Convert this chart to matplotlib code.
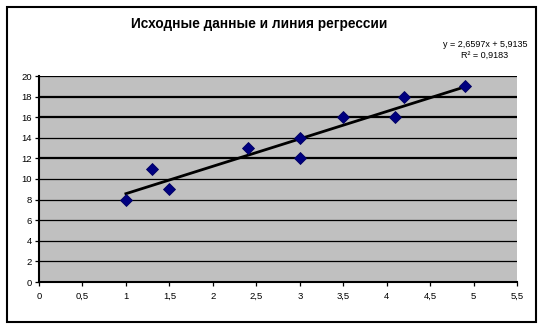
import matplotlib
matplotlib.use("Agg")
import matplotlib.pyplot as plt
from matplotlib.patches import Rectangle
import numpy as np

plt.rcParams['font.family'] = ['Liberation Sans', 'DejaVu Sans']

x_vals = [1.0, 1.3, 1.5, 2.4, 3.0, 3.0, 3.5, 4.1, 4.2, 4.9]
y_vals = [8, 11, 9, 13, 14, 12, 16, 16, 18, 19]
slope = 2.6597
intercept = 5.9135
r2 = 0.9183
title = "Исходные данные и линия регрессии"
x_ticks = [0, 0.5, 1, 1.5, 2, 2.5, 3, 3.5, 4, 4.5, 5, 5.5]
x_tick_labels = ["0", "0,5", "1", "1,5", "2", "2,5", "3", "3,5", "4", "4,5", "5", "5,5"]
y_ticks = [0, 2, 4, 6, 8, 10, 12, 14, 16, 18, 20]
thick_grid = [12, 16, 18]

W, H = 543, 330
fig = plt.figure(figsize=(W / 100, H / 100), dpi=100)
fig.patch.set_facecolor('white')

# outer frame
fig.add_artist(Rectangle((7 / W, 1 - 322 / H), (536 - 7) / W, (322 - 7) / H,
                         transform=fig.transFigure, fill=False,
                         edgecolor='black', linewidth=1.5))

left, right, top, bottom = 39, 517, 76, 282
ax = fig.add_axes([left / W, 1 - bottom / H, (right - left) / W, (bottom - top) / H])
ax.set_facecolor('#C0C0C0')
ax.set_xlim(0, 5.5)
ax.set_ylim(0, 20)

for yv in y_ticks[1:]:
    lw = 1.6 if yv in thick_grid else 0.9
    ax.axhline(yv, color='black', linewidth=lw, zorder=1)

xs = np.array([min(x_vals), max(x_vals)])
ax.plot(xs, slope * xs + intercept, color='black', linewidth=2.0, zorder=2)
ax.plot(x_vals, y_vals, linestyle='none', marker='D', markersize=6.5,
        markerfacecolor='#000080', markeredgecolor='#000060', markeredgewidth=0.6, zorder=3)

ax.set_xticks(x_ticks)
ax.set_xticklabels(x_tick_labels)
ax.set_yticks(y_ticks)
ax.tick_params(axis='both', direction='out', length=3, width=0.9, labelsize=6.8, colors='black', pad=2)
ax.tick_params(axis='x', pad=4)
for s in ['top', 'right']:
    ax.spines[s].set_visible(False)
for s in ['left', 'bottom']:
    ax.spines[s].set_linewidth(1.5)

fig.text(259 / W, 1 - 24 / H, title, ha='center', va='center', fontsize=9.8, fontweight='bold')
fig.text(485 / W, 1 - 50 / H, "y = 2,6597x + 5,9135\nR² = 0,9183", ha='center', va='center',
         fontsize=6.5, linespacing=1.25)

fig.savefig('out.png', dpi=100)
